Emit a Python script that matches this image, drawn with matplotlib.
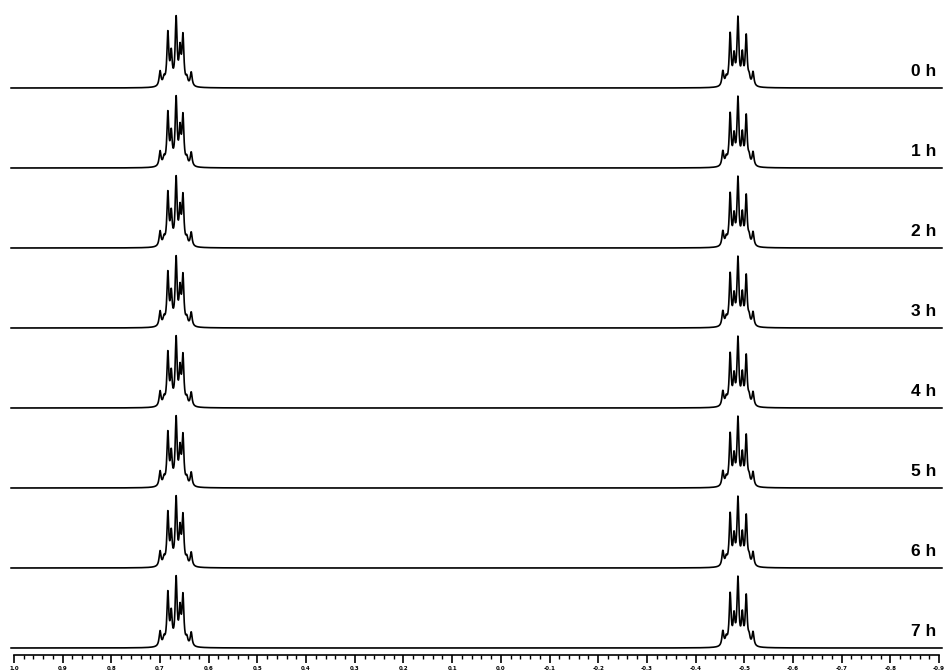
import numpy as np
import matplotlib
matplotlib.use("Agg")
import matplotlib.pyplot as plt
import matplotlib.transforms as mtransforms

# ---- data ----
time_labels = ["0 h", "1 h", "2 h", "3 h", "4 h", "5 h", "6 h", "7 h"]
# peak list of the two multiplets (ppm, relative amplitude)
left_ppm = [0.700, 0.692, 0.684, 0.677, 0.667, 0.659, 0.653, 0.645, 0.636]
left_amp = [15, 7, 52, 30, 66, 33, 48, 7, 14]
right_ppm = [-0.456, -0.463, -0.471, -0.479, -0.487, -0.496, -0.504, -0.510, -0.518]
right_amp = [15, 7, 51, 27, 66, 29, 49, 7, 14]
spectrum_scale = [1.00, 1.00, 1.00, 1.00, 1.00, 1.00, 1.00, 1.00]
tick_values = [1.0, 0.9, 0.8, 0.7, 0.6, 0.5, 0.4, 0.3, 0.2, 0.1, 0.0,
               -0.1, -0.2, -0.3, -0.4, -0.5, -0.6, -0.7, -0.8, -0.9]

W, H = 944, 672
fig = plt.figure(figsize=(W / 100, H / 100), dpi=100)
ax = fig.add_axes([14 / W, (H - 655) / H, (939 - 14) / W, 655 / H])

hwhm = 0.0023
x = np.linspace(1.006, -0.906, 6000)


def multiplet(pos, amp):
    y = np.zeros_like(x)
    for p, a in zip(pos, amp):
        y += a * hwhm ** 2 / ((x - p) ** 2 + hwhm ** 2)
    return y


base_shape = multiplet(left_ppm, left_amp) + multiplet(right_ppm, right_amp)

trans = mtransforms.blended_transform_factory(fig.transFigure, ax.transData)
n = len(time_labels)
for i, (lab, sc) in enumerate(zip(time_labels, spectrum_scale)):
    off = 7 + (n - 1 - i) * 80
    ax.plot(x, base_shape * sc + off, color="black", lw=1.2, clip_on=False)
    ax.text(936 / W, off + 17, lab, transform=trans, ha="right", va="center",
            fontsize=12.5, fontweight="bold", family="Liberation Sans")

ax.set_xlim(1.0, -0.9)
ax.set_ylim(0, 655)
for s in ["top", "left", "right"]:
    ax.spines[s].set_visible(False)
ax.spines["bottom"].set_linewidth(1.2)
ax.set_yticks([])
ax.set_xticks(tick_values)
ax.set_xticklabels([f"{v:.1f}" for v in tick_values], fontsize=4, fontweight="bold")
ax.set_xticks(np.arange(-0.9, 1.0001, 0.02), minor=True)
ax.tick_params(axis="x", which="major", length=6, width=1.2, direction="out", pad=2)
ax.tick_params(axis="x", which="minor", length=3, width=1.0, direction="out")

fig.savefig("out.png", dpi=100)
